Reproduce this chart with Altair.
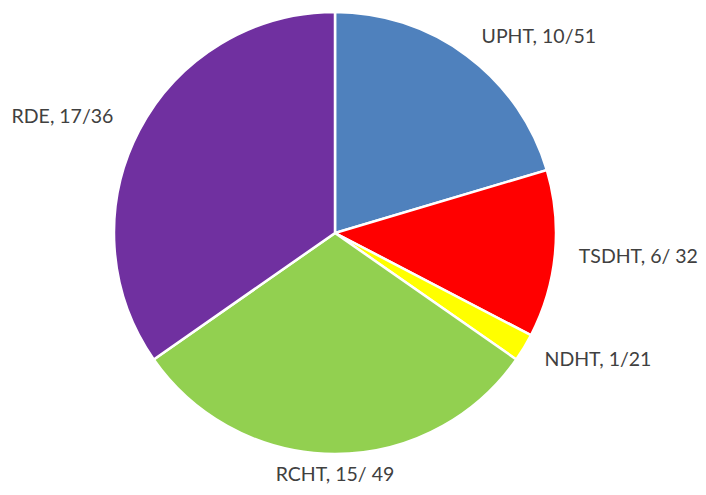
import altair as alt
import pandas as pd

labels = ["UPHT, 10/51", "TSDHT, 6/ 32", "NDHT, 1/21", "RCHT, 15/ 49", "RDE, 17/36"]
categories = ["UPHT", "TSDHT", "NDHT", "RCHT", "RDE"]
values = [10, 6, 1, 15, 17]
colors = ["#4F81BD", "#FF0000", "#FFFF00", "#92D050", "#7030A0"]

df = pd.DataFrame({"cat": categories, "value": values, "label": labels,
                   "idx": list(range(len(values)))})

CX, CY, R = 327, 225, 221

base = alt.Chart(df).transform_window(
    cum="sum(value)", sort=[alt.SortField("idx")]
).transform_joinaggregate(total="sum(value)").transform_calculate(
    t0="(datum.cum - datum.value) / datum.total * 2 * PI",
    t1="datum.cum / datum.total * 2 * PI",
    tm="(datum.cum - datum.value / 2) / datum.total * 2 * PI",
    s="sin((datum.cum - datum.value / 2) / datum.total * 2 * PI)",
)

pie = base.mark_arc(outerRadius=R, stroke="white", strokeWidth=2.5).encode(
    theta=alt.Theta("t0:Q", scale=None),
    theta2="t1:Q",
    color=alt.Color("cat:N", scale=alt.Scale(domain=categories, range=colors), legend=None),
    x=alt.value(CX), y=alt.value(CY),
)

def lab(filt, align, radius):
    return base.transform_filter(filt).mark_text(
        radius=radius, align=align, baseline="middle", font="Lato", fontSize=19.5, color="#404040"
    ).encode(
        theta=alt.Theta("tm:Q", scale=None),
        text="label:N",
        x=alt.value(CX), y=alt.value(CY),
    )

right = lab("datum.s > 0.3", "left", 245)
left = lab("datum.s < -0.3", "right", 250)
mid = lab("abs(datum.s) <= 0.3", "center", 242)

chart = alt.layer(pie, right, left, mid).properties(
    width=690, height=479, padding=0, autosize=alt.AutoSizeParams(type="none"),
    background="white",
).configure_view(stroke=None)

chart.save("out.html", embed_options={"renderer": "svg", "actions": False})
